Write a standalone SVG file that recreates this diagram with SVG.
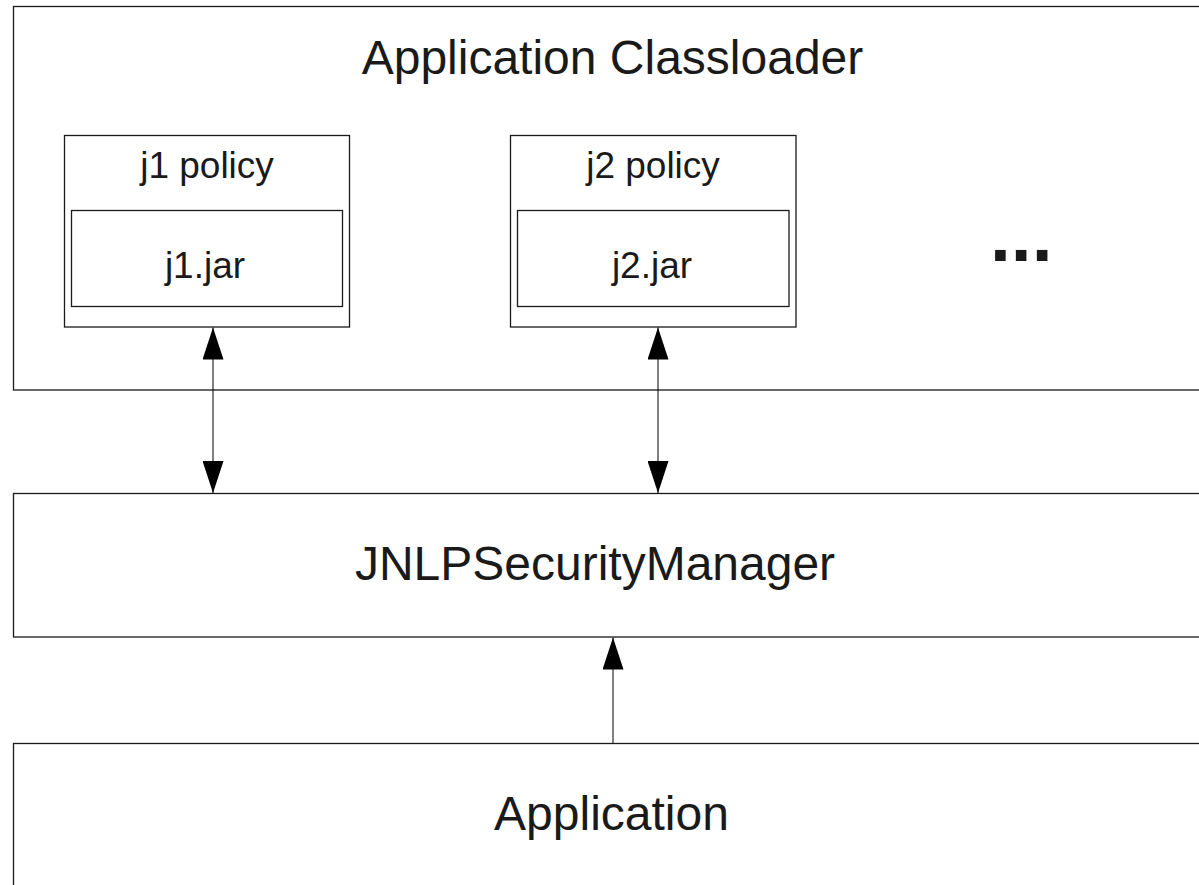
<svg xmlns="http://www.w3.org/2000/svg" width="1199" height="885" viewBox="0 0 1199 885">
<style>
.box{fill:#fff;stroke:#1a1a1a;stroke-width:1.3}
.big{font-family:"Liberation Sans",Arial,sans-serif;font-size:48px;fill:#1a1a1a;text-anchor:middle}
.small{font-family:"Liberation Sans",Arial,sans-serif;font-size:37px;fill:#1a1a1a;text-anchor:middle}
.dots{font-family:"Liberation Sans",Arial,sans-serif;font-weight:bold;font-size:75px;fill:#1a1a1a}
.conn{stroke:#000;stroke-width:1;fill:none}
</style>
<defs>
<marker id="ah" viewBox="0 0 32 21" refX="32" refY="10.5" markerWidth="32" markerHeight="21" markerUnits="userSpaceOnUse" orient="auto-start-reverse">
<path d="M0,0 L32,10.5 L0,21 Z" fill="#000"/>
</marker>
</defs>
<rect width="1199" height="885" fill="#fff"/>
<g id="classloader">
<rect class="box" x="13.5" y="6.5" width="1200" height="383.5"/>
<text class="big" x="612.5" y="74">Application Classloader</text>
</g>
<g id="j1policy">
<rect class="box" x="64.5" y="135.5" width="285" height="191.5"/>
<text class="small" x="207" y="178">j1 policy</text>
</g>
<g id="j1jar">
<rect class="box" x="71.5" y="210.5" width="271" height="96"/>
<text class="small" x="205" y="278">j1.jar</text>
</g>
<g id="j2policy">
<rect class="box" x="510.5" y="135.5" width="285.5" height="191.5"/>
<text class="small" x="653" y="178">j2 policy</text>
</g>
<g id="j2jar">
<rect class="box" x="517.5" y="210.5" width="271.5" height="96"/>
<text class="small" x="652" y="278">j2.jar</text>
</g>
<g id="ellipsis">
<text class="dots" x="990" y="261">...</text>
</g>
<g id="jnlpsm">
<rect class="box" x="13.5" y="493.5" width="1200" height="143.5"/>
<text class="big" x="595" y="580">JNLPSecurityManager</text>
</g>
<g id="application">
<rect class="box" x="13.5" y="743.5" width="1200" height="200"/>
<text class="big" x="611.5" y="830">Application</text>
</g>
<g id="connectors">
<line class="conn" x1="213" y1="327.5" x2="213" y2="493" marker-start="url(#ah)" marker-end="url(#ah)"/>
<line class="conn" x1="658" y1="327.5" x2="658" y2="493" marker-start="url(#ah)" marker-end="url(#ah)"/>
<line class="conn" x1="613" y1="743" x2="613" y2="637.5" marker-end="url(#ah)"/>
</g>
</svg>
